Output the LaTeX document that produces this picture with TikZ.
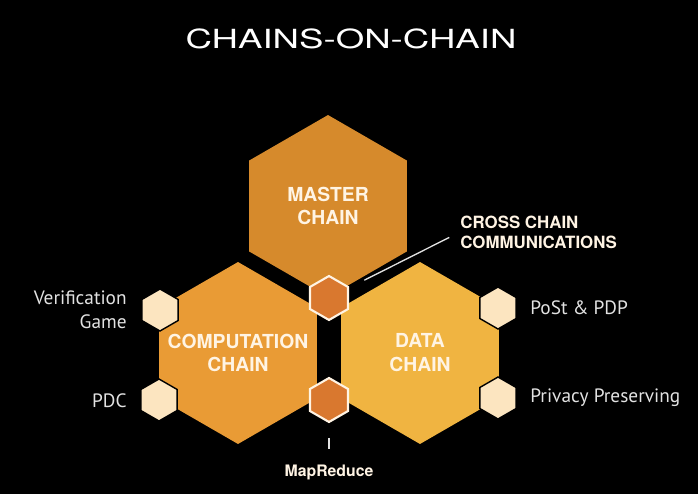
\documentclass[tikz,border=0pt]{standalone}
\usepackage{fontspec}
\setmainfont{PT Sans}
\newfontfamily\heros{TeX Gyre Heros}
\usepackage{graphicx}
\usetikzlibrary{shapes.geometric,positioning}
\definecolor{masterorange}{RGB}{214,138,44}
\definecolor{computeorange}{RGB}{233,155,53}
\definecolor{datayellow}{RGB}{240,180,65}
\definecolor{junction}{RGB}{217,120,47}
\definecolor{pale}{RGB}{252,229,192}
\definecolor{cream}{RGB}{255,244,228}
\definecolor{softgray}{RGB}{226,226,226}

\begin{document}
\begin{tikzpicture}[x=0.02cm, y=-0.02cm,
        hexa/.style={regular polygon, regular polygon sides=6, shape border rotate=30, inner sep=0pt, minimum size=3.64cm, fill=#1},
        chainlabel/.style={font=\heros\bfseries\fontsize{11}{13.6}\selectfont, text=cream, align=center},
        cell/.style={regular polygon, regular polygon sides=6, shape border rotate=30, inner sep=0pt, minimum size=0.84cm, fill=pale, draw=black, line width=0.8pt},
        junct/.style={cell, minimum size=0.88cm, fill=junction, draw=cream, line width=1.2pt},
        sidetext/.style={font=\fontsize{11}{13.6}\selectfont, text=softgray, inner sep=0pt},
        calltext/.style={font=\heros\bfseries\fontsize{9.6}{11.3}\selectfont, text=cream, align=left},
        pointer/.style={draw=softgray, line width=0.75pt}
    ]
        \fill[black] (0,0) rectangle (698,494);

        \node[font=\heros\fontsize{15}{18}\selectfont, text=white] (title) at (351,39) {\scalebox{1.39}[1]{CHAINS-ON-CHAIN}};

        \node[hexa=masterorange, label={[chainlabel]center:MASTER\\CHAIN}] (masterc) at (328,206) {};
        \node[hexa=computeorange, label={[chainlabel]center:COMPUTATION\\CHAIN}] (computec) at (238,353) {};
        \node[hexa=datayellow, label={[chainlabel]center:DATA\\CHAIN}] (datac) at (420,353) {};

        \node[cell] (verif) at (160,310) {};
        \node[cell] (pdc) at (159,400) {};
        \node[cell] (post) at (498,308) {};
        \node[cell] (privacy) at (498,398) {};
        \node[junct] (crossj) at (329,298) {};
        \node[junct] (mapj) at (329,400) {};

        \node[sidetext, align=right, anchor=east] (veriftext) at (127,310) {Verification\\Game};
        \node[sidetext, anchor=east] (pdctext) at (127,401) {PDC};
        \node[sidetext, anchor=west] (posttext) at (530,308) {PoSt \& PDP};
        \node[sidetext, anchor=west] (privtext) at (530,398) {Privacy Preserving};

        \node[calltext, inner sep=0pt, anchor=west] (cross) at (460,232) {CROSS CHAIN\\COMMUNICATIONS};
        \node[calltext, font=\heros\bfseries\fontsize{9}{11}\selectfont] (mapreduce) at (329,472) {MapReduce};

        \draw[pointer, shorten <=0.79cm, shorten >=0.24cm] (crossj.center) -- (cross.west);
        \draw[pointer, shorten <=0.76cm, shorten >=0.18cm] (mapj.center) -- (mapreduce.north);
    \end{tikzpicture}
\end{document}
